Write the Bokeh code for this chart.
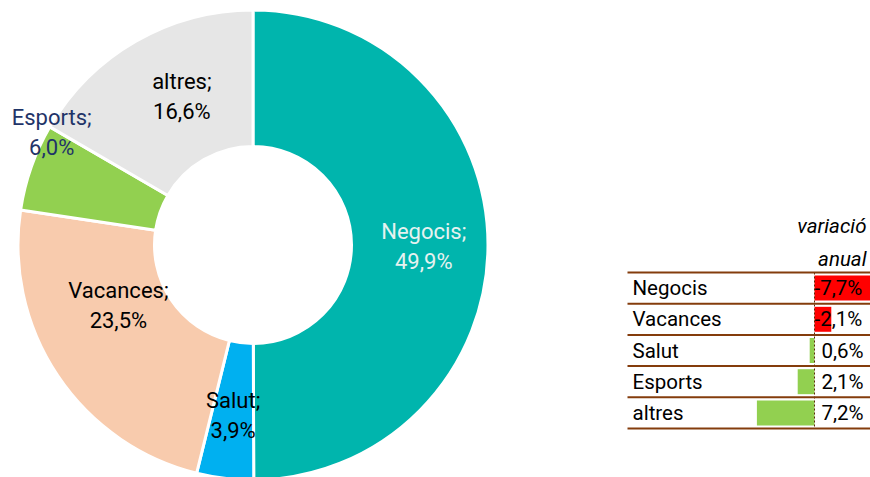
import numpy as np
from bokeh.plotting import figure
from bokeh.layouts import row
from bokeh.models import Range1d, ColumnDataSource
from bokeh.core.properties import value
from bokeh.embed import file_html
from bokeh.resources import INLINE

# ---------------- data ----------------
categories = ["Negocis", "Salut", "Vacances", "Esports", "altres"]
shares = [49.9, 3.9, 23.5, 6.0, 16.6]
share_labels = ["49,9%", "3,9%", "23,5%", "6,0%", "16,6%"]

table_categories = ["Negocis", "Vacances", "Salut", "Esports", "altres"]
variation = [-7.7, -2.1, 0.6, 2.1, 7.2]
variation_labels = ["-7,7%", "-2,1%", "0,6%", "2,1%", "7,2%"]
header_lines = ["variació", "anual"]

# ---------------- styles ----------------
slice_colors = ["#00B5AD", "#00B0F0", "#F8CBAD", "#92D050", "#E6E6E6"]
label_colors = ["#E6F2F0", "#000000", "#000000", "#1F3468", "#000000"]
FONT = "Roboto"
BROWN = "#843C0C"

# ---------------- donut ----------------
W1, H = 600, 477
p1 = figure(width=W1, height=H, x_range=Range1d(0, W1), y_range=Range1d(0, H),
            output_backend="svg", toolbar_location=None, min_border=0)
p1.axis.visible = False
p1.grid.visible = False
p1.outline_line_color = None

cx, cy = 252.5, H - 244.5
r_in, r_out = 98.5, 235.0
fr = np.array(shares) / np.sum(shares)
cum_end = np.cumsum(fr)
cum_start = cum_end - fr
start_a = np.pi / 2 - 2 * np.pi * cum_start
end_a = np.pi / 2 - 2 * np.pi * cum_end
src = ColumnDataSource(dict(s=start_a, e=end_a, c=slice_colors))
p1.annular_wedge(x=cx, y=cy, inner_radius=r_in, outer_radius=r_out,
                 start_angle="s", end_angle="e", direction="clock",
                 fill_color="c", line_color="white", line_width=3, source=src)

mid = np.pi / 2 - 2 * np.pi * (cum_start + fr / 2)
r_lab = (r_in + r_out) / 2
# manual nudges of label blocks (pixels)
nudge_x = [4, 0, 4, -44, 12]
nudge_y = [-2, -5, 32, 57, 4]
lx = cx + r_lab * np.cos(mid) + np.array(nudge_x)
ly = cy + r_lab * np.sin(mid) + np.array(nudge_y)
lsrc = ColumnDataSource(dict(x=lx, y1=ly + 15, y2=ly - 15,
                             t1=[c + ";" for c in categories], t2=share_labels,
                             col=label_colors))
for yk, tk in (("y1", "t1"), ("y2", "t2")):
    p1.text(x="x", y=yk, text=tk, text_color="col", text_font=value(FONT),
            text_font_size="22px", text_align="center", text_baseline="middle",
            source=lsrc)

# ---------------- variation table ----------------
W2 = 270
px_per = 8.0
axis_sx = 814.0
def vx(sx):
    return (axis_sx - sx) / px_per
row0, pitch = 287.6, 31.2
def iy(sy):
    return (sy - row0) / pitch

p2 = figure(width=W2, height=H, x_range=Range1d(vx(W1), vx(W1 + W2)),
            y_range=Range1d(iy(H), iy(0)),
            output_backend="svg", toolbar_location=None, min_border=0)
p2.axis.visible = False
p2.grid.visible = False
p2.outline_line_color = None

idx = np.arange(len(table_categories))
bar_cols = ["#FF0000" if v < 0 else "#92D050" for v in variation]
tsrc = ColumnDataSource(dict(y=idx, v=variation, c=bar_cols,
                             name=table_categories, lab=variation_labels,
                             off=[0 if v < 0 else 7 for v in variation]))
p2.hbar(y="y", left=0, right="v", height=0.8, fill_color="c", line_color=None, source=tsrc)

p2.segment(x0=0, y0=-0.5, x1=0, y1=len(idx) - 0.5, line_color="#5a2a08",
           line_width=1, line_dash="2 2")

p2.text(x=vx(632), y="y", text="name", text_font=value(FONT), text_font_size="20.5px",
        text_align="left", text_baseline="middle", text_color="black", source=tsrc)
p2.text(x=vx(814), y="y", text="lab", x_offset="off", text_font=value(FONT),
        text_font_size="20.5px", text_align="left", text_baseline="middle",
        text_color="black", source=tsrc)

lines_y = np.arange(len(idx) + 1) - 0.5
p2.segment(x0=vx(627), y0=lines_y, x1=vx(900), y1=lines_y, line_color=BROWN, line_width=2)

p2.text(x=[vx(866), vx(866)], y=[iy(225), iy(258)], text=header_lines,
        text_font=value(FONT), text_font_size="20.5px", text_font_style="italic",
        text_align="right", text_baseline="middle", text_color="black")

layout = row(p1, p2)
open("out.html", "w").write(file_html(layout, INLINE))
